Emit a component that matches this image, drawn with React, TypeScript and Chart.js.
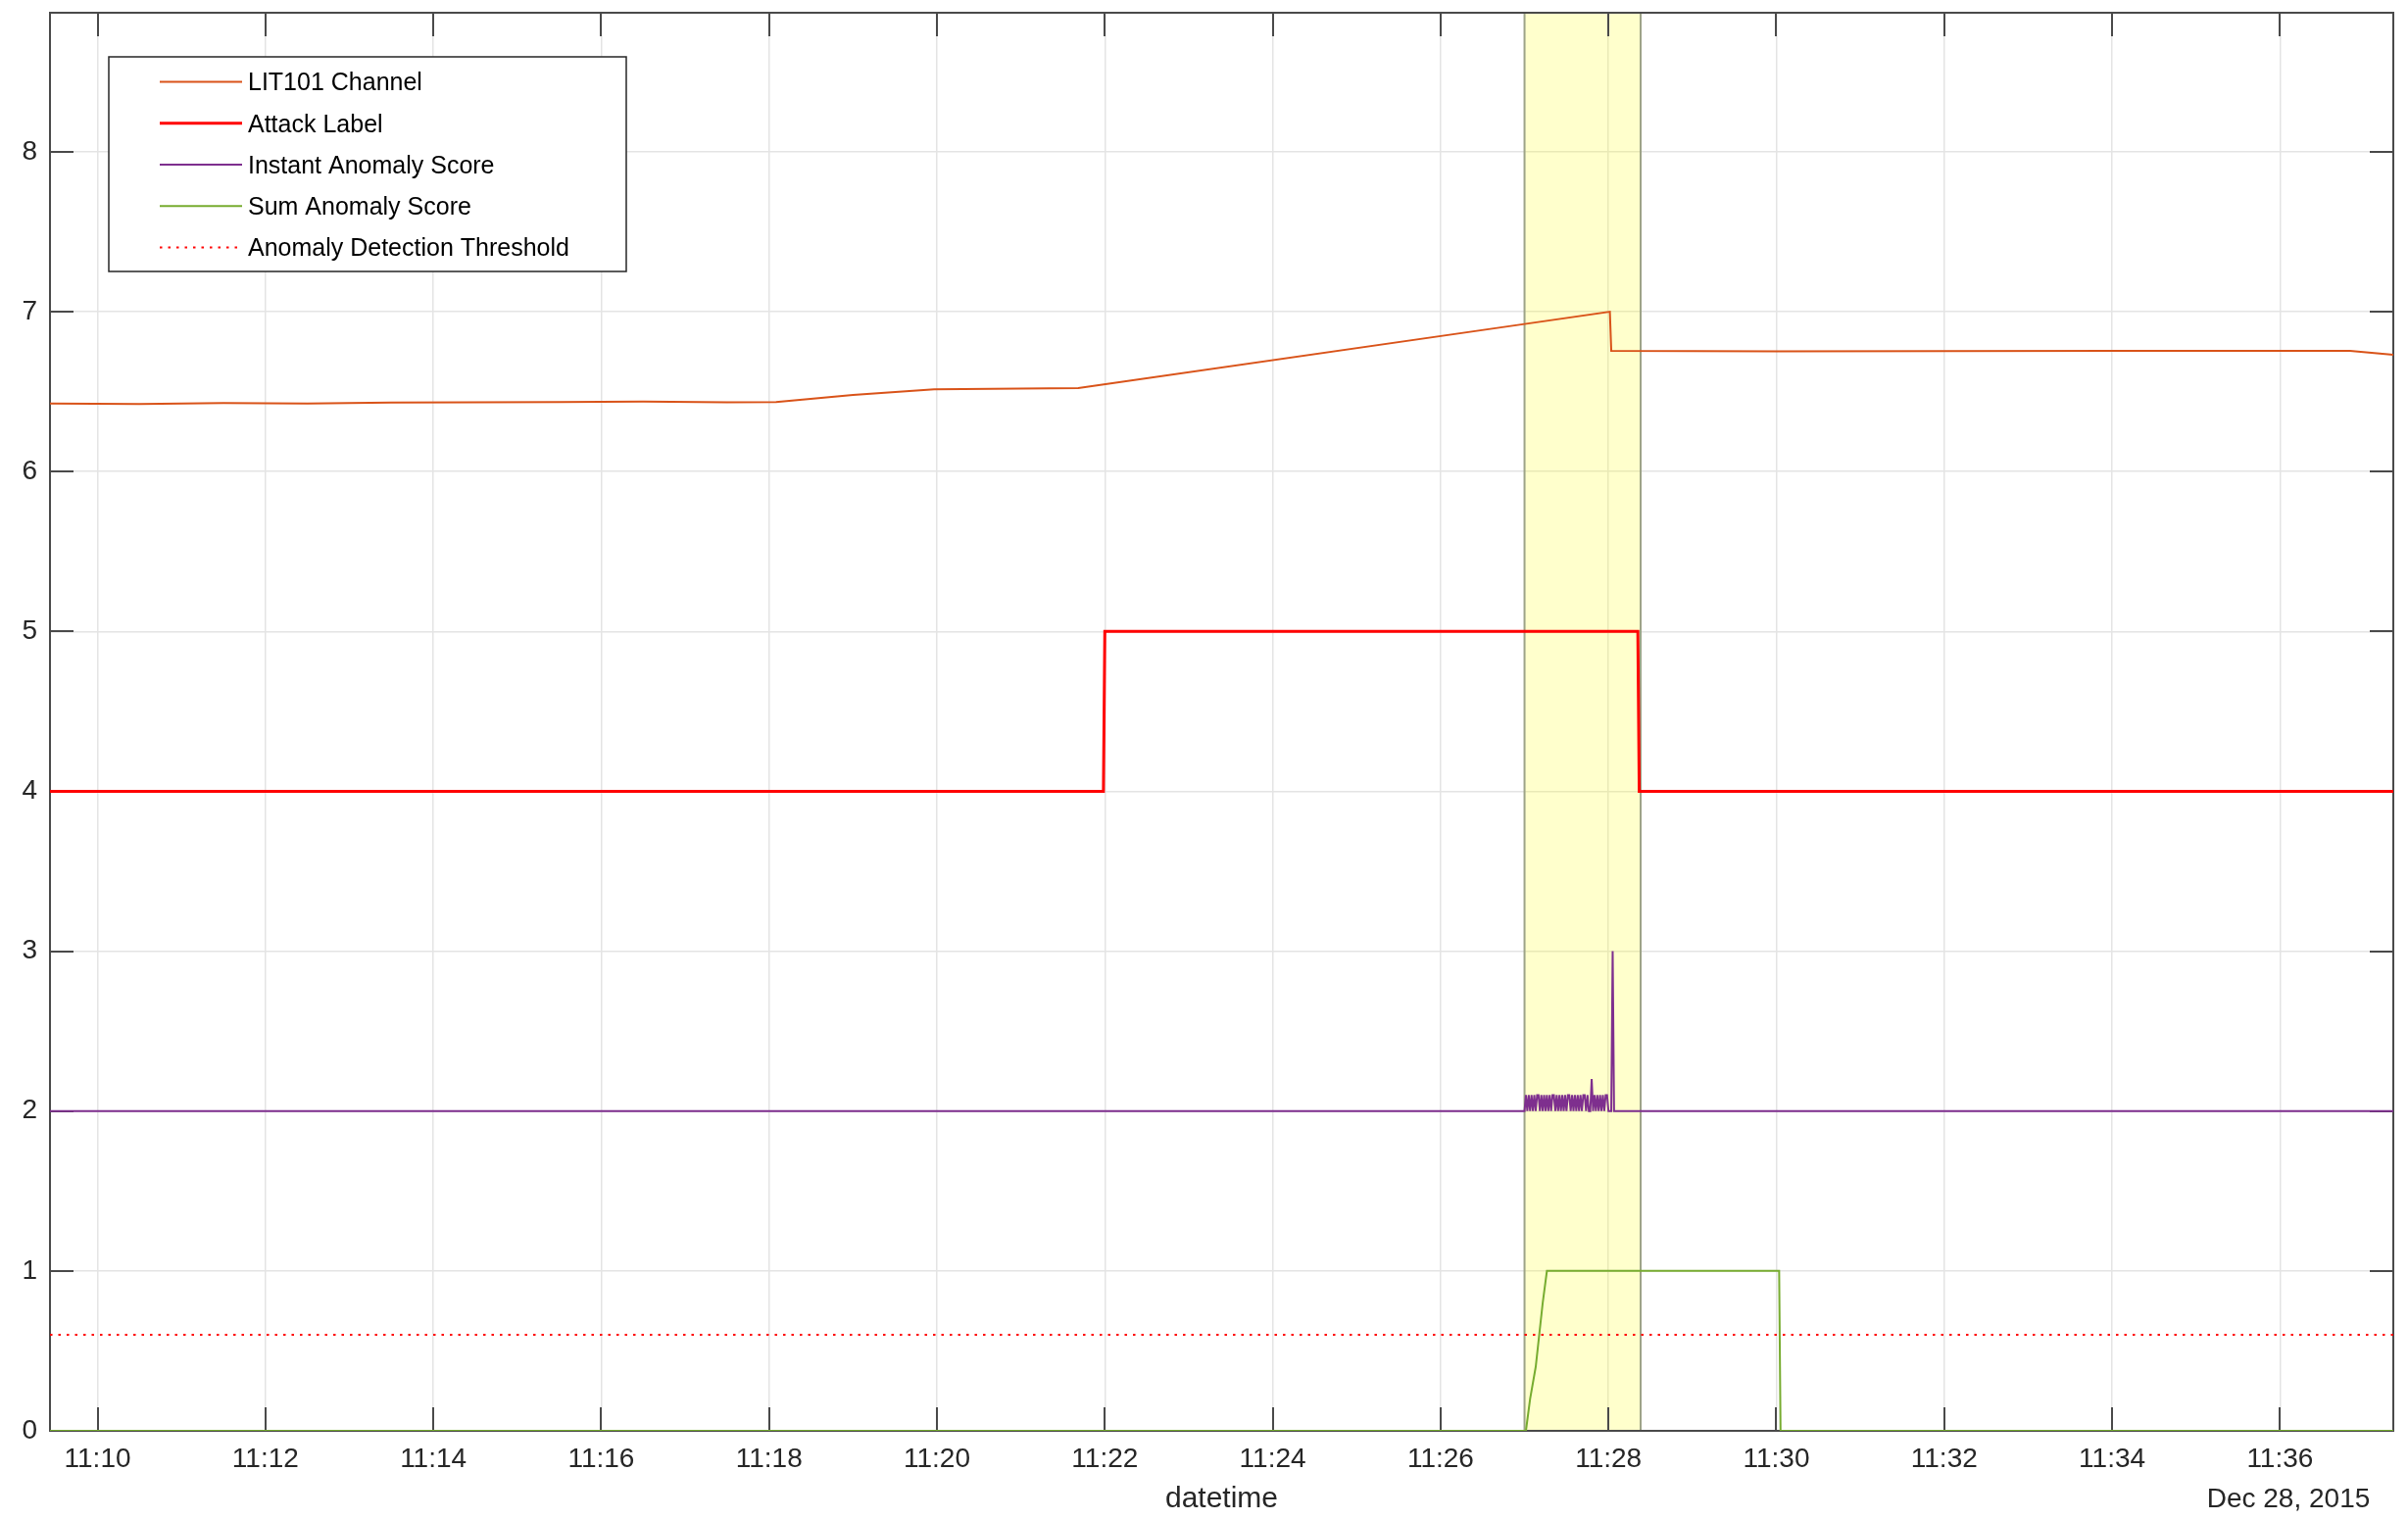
import { useEffect, useRef } from 'react';
import { Chart, registerables } from 'chart.js';

Chart.register(...registerables);

// ---------------- data ----------------
const xTickLabels = ['11:10', '11:12', '11:14', '11:16', '11:18', '11:20', '11:22', '11:24', '11:26', '11:28', '11:30', '11:32', '11:34', '11:36'];
const yTickValues = [0, 1, 2, 3, 4, 5, 6, 7, 8];
const xMinTime = '11:09:26';
const xMaxTime = '11:37:21';
const yMin = 0;
const yMax = 8.87;

const seriesLabels = ['LIT101 Channel', 'Attack Label', 'Instant Anomaly Score', 'Sum Anomaly Score', 'Anomaly Detection Threshold'];

const lit101Times = ['11:09:26', '11:10:30', '11:11:30', '11:12:30', '11:13:30', '11:14:30', '11:15:30', '11:16:30', '11:17:30', '11:18:05', '11:19:00', '11:19:58', '11:21:41', '11:27:00', '11:28:01', '11:28:02', '11:30:00', '11:34:00', '11:36:50', '11:37:21'];
const lit101Values = [6.425, 6.422, 6.428, 6.425, 6.432, 6.433, 6.435, 6.438, 6.433, 6.435, 6.48, 6.515, 6.523, 6.923, 7.0, 6.755, 6.752, 6.755, 6.755, 6.73];

const attackTimes = ['11:09:26', '11:21:59', '11:22:00', '11:28:21', '11:28:22', '11:37:21'];
const attackValues = [4, 4, 5, 5, 4, 4];

const instantBeforeTimes = ['11:09:26', '11:27:00'];
const instantBeforeValues = [2, 2];
const instantBurstStart = '11:27:01'; // one sample per second
const instantBurstValues = [
  2.1, 2.0, 2.1, 2.0, 2.1, 2.0, 2.1, 2.0, 2.1, 2.1,
  2.0, 2.1, 2.0, 2.1, 2.0, 2.1, 2.0, 2.1, 2.0, 2.1,
  2.1, 2.0, 2.1, 2.0, 2.1, 2.0, 2.1, 2.0, 2.1, 2.0,
  2.1, 2.1, 2.0, 2.1, 2.0, 2.1, 2.0, 2.1, 2.0, 2.1,
  2.0, 2.1, 2.1, 2.0, 2.1, 2.0, 2.0, 2.2, 2.0, 2.1,
  2.0, 2.1, 2.0, 2.1, 2.0, 2.1, 2.0, 2.1, 2.1,
];
const instantAfterTimes = ['11:28:00', '11:28:02', '11:28:03', '11:28:04', '11:37:21'];
const instantAfterValues = [2, 2, 3.0, 2, 2];

const sumTimes = ['11:09:26', '11:27:01', '11:27:04', '11:27:08', '11:27:13', '11:27:16', '11:30:02', '11:30:03', '11:37:21'];
const sumValues = [0, 0, 0.2, 0.4, 0.8, 1, 1, 0, 0];

const thresholdValue = 0.6;

const attackWindowStart = '11:27:00';
const attackWindowEnd = '11:28:23';

const xAxisTitle = 'datetime';
const dateLabel = 'Dec 28, 2015';

// ---------------- helpers ----------------
const toSec = (t: string) => {
  const [h, m, s] = t.split(':').map(Number);
  return h * 3600 + m * 60 + (s || 0);
};
const pts = (times: string[], values: number[]) => times.map((t, i) => ({ x: toSec(t), y: values[i] }));

const FONT = '"Liberation Sans", Arial, Helvetica, sans-serif';
const W = 2457;
const H = 1551;

export default function App() {
  const ref = useRef<HTMLCanvasElement | null>(null);

  useEffect(() => {
    if (!ref.current) return;

    const burstStart = toSec(instantBurstStart);
    const instantData = [
      ...pts(instantBeforeTimes, instantBeforeValues),
      ...instantBurstValues.map((v, i) => ({ x: burstStart + i, y: v })),
      ...pts(instantAfterTimes, instantAfterValues),
    ];

    const decor = {
      id: 'decor',
      beforeDatasetsDraw(chart: any) {
        const { ctx, chartArea: a, scales } = chart;
        const x = scales.x;
        const y = scales.y;
        ctx.save();
        // attack window band
        const b0 = x.getPixelForValue(toSec(attackWindowStart));
        const b1 = x.getPixelForValue(toSec(attackWindowEnd));
        ctx.fillStyle = 'rgba(255,255,0,0.2)';
        ctx.fillRect(b0, a.top, b1 - b0, a.bottom - a.top);
        ctx.strokeStyle = '#9da387';
        ctx.lineWidth = 2;
        ctx.strokeRect(b0, a.top, b1 - b0, a.bottom - a.top);
        // axes box
        ctx.strokeStyle = '#4a4a4a';
        ctx.lineWidth = 2;
        ctx.strokeRect(a.left, a.top, a.right - a.left, a.bottom - a.top);
        // inward ticks
        const tl = 24;
        ctx.beginPath();
        xTickLabels.forEach((l) => {
          const px = Math.round(x.getPixelForValue(toSec(l)));
          ctx.moveTo(px, a.bottom);
          ctx.lineTo(px, a.bottom - tl);
          ctx.moveTo(px, a.top);
          ctx.lineTo(px, a.top + tl);
        });
        yTickValues.forEach((v) => {
          const py = Math.round(y.getPixelForValue(v));
          ctx.moveTo(a.left, py);
          ctx.lineTo(a.left + tl, py);
          ctx.moveTo(a.right, py);
          ctx.lineTo(a.right - tl, py);
        });
        ctx.stroke();
        ctx.restore();
      },
      afterDraw(chart: any) {
        const { ctx, chartArea: a } = chart;
        ctx.save();
        // legend
        const lx = a.left + 60;
        const ly = a.top + 45;
        const lw = 528;
        const lh = 219;
        ctx.fillStyle = '#ffffff';
        ctx.fillRect(lx, ly, lw, lh);
        ctx.strokeStyle = '#262626';
        ctx.lineWidth = 1.5;
        ctx.strokeRect(lx, ly, lw, lh);
        ctx.font = `25px ${FONT}`;
        ctx.textBaseline = 'middle';
        ctx.textAlign = 'left';
        chart.data.datasets.forEach((ds: any, i: number) => {
          const ry = ly + 25.6 + i * 42.25;
          ctx.save();
          ctx.strokeStyle = ds.borderColor;
          ctx.lineWidth = ds.borderWidth;
          ctx.setLineDash(ds.borderDash || []);
          ctx.beginPath();
          ctx.moveTo(lx + 52, ry);
          ctx.lineTo(lx + 136, ry);
          ctx.stroke();
          ctx.restore();
          ctx.fillStyle = '#000000';
          ctx.fillText(ds.label, lx + 142, ry + 2);
        });
        // date label under axis
        ctx.font = `28px ${FONT}`;
        ctx.fillStyle = '#262626';
        ctx.textAlign = 'center';
        ctx.textBaseline = 'alphabetic';
        ctx.fillText(dateLabel, a.right - 107, 1538);
        ctx.restore();
      },
    };

    const chart = new Chart(ref.current, {
      type: 'line',
      data: {
        datasets: [
          { label: seriesLabels[0], data: pts(lit101Times, lit101Values), borderColor: '#D95319', borderWidth: 2 },
          { label: seriesLabels[1], data: pts(attackTimes, attackValues), borderColor: '#FF0000', borderWidth: 3 },
          { label: seriesLabels[2], data: instantData, borderColor: '#7E2F8E', borderWidth: 2 },
          { label: seriesLabels[3], data: pts(sumTimes, sumValues), borderColor: '#77AC30', borderWidth: 2 },
          {
            label: seriesLabels[4],
            data: [
              { x: toSec(xMinTime), y: thresholdValue },
              { x: toSec(xMaxTime), y: thresholdValue },
            ],
            borderColor: '#FF0000',
            borderWidth: 2,
            borderDash: [2.5, 6],
          },
        ] as any,
      },
      options: {
        responsive: false,
        animation: false,
        devicePixelRatio: 1,
        parsing: false as any,
        normalized: true,
        elements: { point: { radius: 0 }, line: { tension: 0, fill: false } },
        layout: { padding: { left: 0, right: 15, top: 13, bottom: 0 } },
        plugins: { legend: { display: false }, tooltip: { enabled: false } },
        scales: {
          x: {
            type: 'linear',
            min: toSec(xMinTime),
            max: toSec(xMaxTime),
            afterBuildTicks: (s: any) => {
              s.ticks = xTickLabels.map((l) => ({ value: toSec(l) }));
            },
            afterFit: (s: any) => {
              s.height = 91;
              s.paddingLeft = 0;
              s.paddingRight = 0;
            },
            grid: { color: '#e4e4e4', lineWidth: 1.5, drawTicks: false },
            border: { display: false },
            ticks: {
              autoSkip: false,
              maxRotation: 0,
              padding: 12,
              color: '#262626',
              font: { family: FONT, size: 28 },
              callback: (v: any) => {
                const n = Number(v);
                const h = Math.floor(n / 3600);
                const m = Math.floor((n % 3600) / 60);
                return `${h}:${String(m).padStart(2, '0')}`;
              },
            },
            title: {
              display: true,
              text: xAxisTitle,
              color: '#262626',
              font: { family: FONT, size: 30 },
              padding: { top: 0, bottom: 3 },
            },
          },
          y: {
            type: 'linear',
            min: yMin,
            max: yMax,
            afterBuildTicks: (s: any) => {
              s.ticks = yTickValues.map((v) => ({ value: v }));
            },
            afterFit: (s: any) => {
              s.width = 51;
              s.paddingTop = 0;
              s.paddingBottom = 0;
            },
            grid: { color: '#e4e4e4', lineWidth: 1.5, drawTicks: false },
            border: { display: false },
            ticks: {
              padding: 13,
              color: '#262626',
              font: { family: FONT, size: 28 },
              callback: (v: any) => String(v),
            },
          },
        },
      },
      plugins: [decor],
    });

    return () => chart.destroy();
  }, []);

  return (
    <div style={{ position: 'absolute', left: 0, top: 0, width: W, height: H, background: '#fff' }}>
      <canvas ref={ref} width={W} height={H} style={{ display: 'block', width: W, height: H }} />
    </div>
  );
}
